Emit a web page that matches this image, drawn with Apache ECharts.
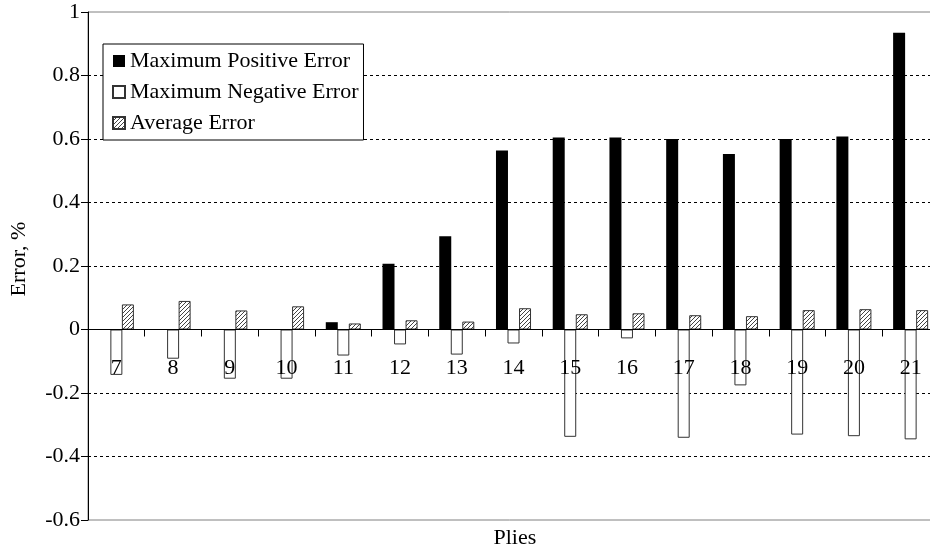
<!DOCTYPE html>
<html>
<head>
<meta charset="utf-8">
<script src="https://cdn.jsdelivr.net/npm/echarts@6/dist/echarts.min.js"></script>
<style>html,body{margin:0;padding:0;background:#fff}#c{width:930px;height:554px}</style>
</head>
<body>
<div id="c"></div>
<script>
var categories = ['7','8','9','10','11','12','13','14','15','16','17','18','19','20','21'];
var maxPositive = [0, 0, 0, 0, 0.023, 0.207, 0.294, 0.564, 0.605, 0.605, 0.600, 0.553, 0.600, 0.608, 0.935];
var maxNegative = [-0.143, -0.092, -0.155, -0.155, -0.082, -0.047, -0.079, -0.044, -0.338, -0.028, -0.341, -0.176, -0.331, -0.336, -0.346];
var avgError = [0.079, 0.090, 0.060, 0.073, 0.019, 0.029, 0.025, 0.067, 0.048, 0.051, 0.045, 0.042, 0.061, 0.064, 0.061];
var seriesNames = ['Maximum Positive Error', 'Maximum Negative Error', 'Average Error'];
var xTitle = 'Plies';
var yTitle = 'Error, %';

var FONT = '"Liberation Serif", "Times New Roman", serif';
var GRID = {left: 88, top: 12, width: 851, height: 508};

function hatch() {
  var c = document.createElement('canvas');
  c.width = 4; c.height = 4;
  var g = c.getContext('2d');
  g.fillStyle = '#fff';
  g.fillRect(0, 0, 4, 4);
  g.strokeStyle = '#444';
  g.lineWidth = 1;
  g.beginPath();
  g.moveTo(0, 4); g.lineTo(4, 0);
  g.moveTo(-1, 1); g.lineTo(1, -1);
  g.moveTo(3, 5); g.lineTo(5, 3);
  g.stroke();
  return c;
}

var chart = echarts.init(document.getElementById('c'), null, {renderer: 'canvas'});
chart.setOption({
  animation: false,
  backgroundColor: '#fff',
  grid: {left: GRID.left, top: GRID.top, width: GRID.width, height: GRID.height, containLabel: false, outerBoundsMode: 'none', show: true, borderColor: '#808080', borderWidth: 1, backgroundColor: 'transparent'},
  legend: {
    show: true,
    orient: 'vertical',
    left: 103, top: 44,
    padding: [6, 5, 6, 9],
    itemGap: 9,
    itemWidth: 12, itemHeight: 12,
    backgroundColor: '#fff',
    borderColor: '#000',
    borderWidth: 1,
    icon: 'rect',
    textStyle: {fontFamily: FONT, fontSize: 22, color: '#000'},
    data: seriesNames
  },
  graphic: [{
    type: 'text',
    left: GRID.left + GRID.width / 2 - 20,
    top: 527,
    style: {text: xTitle, font: '22px ' + FONT, fill: '#000'}
  }],
  xAxis: {
    type: 'category',
    data: categories,
    z: 5,
    axisLine: {onZero: true, lineStyle: {color: '#000', width: 1}},
    axisTick: {show: true, length: 7, lineStyle: {color: '#000'}},
    axisLabel: {fontFamily: FONT, fontSize: 22, color: '#000', margin: -163},
    splitLine: {show: false}
  },
  yAxis: {
    type: 'value',
    min: -0.6, max: 1, interval: 0.2,
    name: yTitle,
    nameLocation: 'middle',
    nameRotate: 90,
    nameGap: 58,
    nameTextStyle: {fontFamily: FONT, fontSize: 22, color: '#000', padding: [0, 0, 0, 14]},
    axisLine: {show: true, lineStyle: {color: '#000'}},
    axisTick: {show: true, length: 7, inside: false, lineStyle: {color: '#000'}},
    axisLabel: {fontFamily: FONT, fontSize: 22, color: '#000', margin: 8,
      formatter: function (v) { return String(Math.round(v * 10) / 10); }},
    splitLine: {show: true, showMinLine: false, showMaxLine: false, lineStyle: {color: '#000', type: [3, 3], width: 1}}
  },
  series: [{
    name: seriesNames[0], type: 'bar', data: maxPositive,
    barWidth: 12, barGap: '-4%',
    itemStyle: {color: '#000', borderColor: '#000', borderWidth: 0}
  }, {
    name: seriesNames[1], type: 'bar', data: maxNegative,
    barWidth: 12, barGap: '-4%',
    itemStyle: {color: '#fff', borderColor: '#333', borderWidth: 1}
  }, {
    name: seriesNames[2], type: 'bar', data: avgError,
    barWidth: 12, barGap: '-4%',
    itemStyle: {color: {image: hatch(), repeat: 'repeat'}, borderColor: '#333', borderWidth: 1}
  }]
});
</script>
</body>
</html>
